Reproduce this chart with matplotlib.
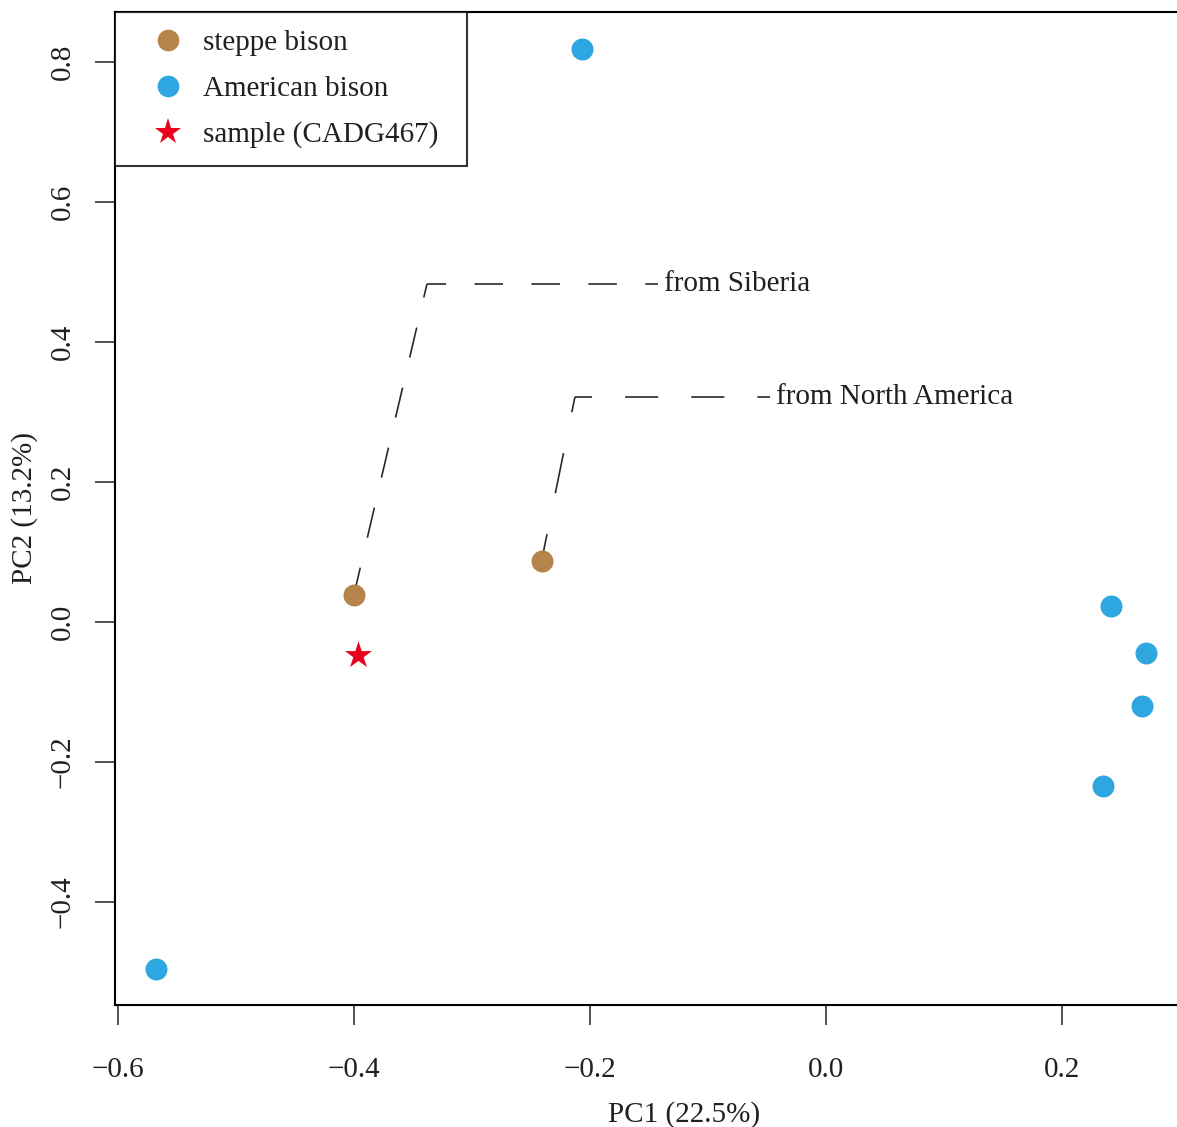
import matplotlib
matplotlib.use("Agg")
import matplotlib.pyplot as plt
from matplotlib.lines import Line2D

plt.rcParams['font.family'] = ['Liberation Serif', 'DejaVu Serif']
plt.rcParams['lines.scale_dashes'] = False

# data
steppe_x = [-0.400, -0.241]
steppe_y = [0.039, 0.087]
american_x = [-0.207, -0.568, 0.2415, 0.2712, 0.2678, 0.2347]
american_y = [0.819, -0.496, 0.023, -0.044, -0.120, -0.234]
sample_x = [-0.3966]
sample_y = [-0.047]

# connector paths: point -> corner -> label
siberia_path_x = [-0.400, -0.3381, -0.1424]
siberia_path_y = [0.039, 0.4829, 0.4829]
na_path_x = [-0.241, -0.2127, -0.0475]
na_path_y = [0.087, 0.3214, 0.3214]
labels = ['from Siberia', 'from North America']

xticks = [-0.6, -0.4, -0.2, 0.0, 0.2]
yticks = [-0.4, -0.2, 0.0, 0.2, 0.4, 0.6, 0.8]

c_steppe = '#B5844A'
c_amer = '#2EA6DF'
c_sample = '#E8001C'
c_text = '#231F20'

W, H = 1177, 1127
fig = plt.figure(figsize=(W / 100, H / 100), dpi=100)
left, right, top, bottom = 115, 1253, 12, 1005
ax = fig.add_axes([left / W, (H - bottom) / H, (right - left) / W, (bottom - top) / H])
ax.set_xlim(-0.6025, 0.362)
ax.set_ylim(-0.5471, 0.8714)

for sp in ax.spines.values():
    sp.set_linewidth(1.5)

# dashed connector lines (segment-wise dash patterns, in points)
dash_styles = [
    [(2.2, (22.2, 22.2)), (6.8, (20.5, 20.5))],
    [(9.6, (29.4, 30.1)), (11.5, (23.8, 23.8))],
]
for (px, py), styles, lab in zip([(siberia_path_x, siberia_path_y), (na_path_x, na_path_y)],
                                 dash_styles, labels):
    for i in range(2):
        ax.plot(px[i:i + 2], py[i:i + 2], color='#2a2a2a', lw=1.2, zorder=2,
                linestyle=styles[i])
    ax.text(px[-1] + 0.005, py[-1], lab, fontsize=21, color=c_text,
            ha='left', va='center')

ax.scatter(steppe_x, steppe_y, s=250, color=c_steppe, zorder=3, linewidths=0)
ax.scatter(american_x, american_y, s=250, color=c_amer, zorder=3, linewidths=0)
ax.scatter(sample_x, sample_y, s=420, color=c_sample, marker='*', zorder=3, linewidths=0)

ax.set_xticks(xticks)
ax.set_xticklabels([f'{v:.1f}'.replace('-', '\u2212') for v in xticks])
ax.set_yticks(yticks)
ax.set_yticklabels([f'{v:.1f}'.replace('-', '\u2212') for v in yticks], rotation=90, va='center')
ax.tick_params(axis='both', length=14.4, width=1.1, labelsize=21, colors='#222222', labelcolor=c_text)
ax.tick_params(axis='x', pad=23)
ax.tick_params(axis='y', pad=14)

ax.set_xlabel('PC1 (22.5%)', fontsize=21, color=c_text, labelpad=13)
ax.set_ylabel('PC2 (13.2%)', fontsize=21, color=c_text, labelpad=8)

handles = [
    Line2D([], [], marker='o', ls='', color=c_steppe, markersize=15.6, markeredgewidth=0),
    Line2D([], [], marker='o', ls='', color=c_amer, markersize=15.6, markeredgewidth=0),
    Line2D([], [], marker='*', ls='', color=c_sample, markersize=20, markeredgewidth=0),
]
leg = ax.legend(handles, ['steppe bison', 'American bison', 'sample (CADG467)'],
                loc='upper left', bbox_to_anchor=(0, 1, (467 - left) / (right - left), 0),
                mode='expand', borderaxespad=0,
                fontsize=21, frameon=True, fancybox=False, edgecolor='black',
                handletextpad=0.05, labelspacing=0.66, borderpad=0.62, handlelength=2.36)
leg.get_frame().set_linewidth(1.5)
for t in leg.get_texts():
    t.set_color(c_text)

fig.savefig('out.png', dpi=100)
